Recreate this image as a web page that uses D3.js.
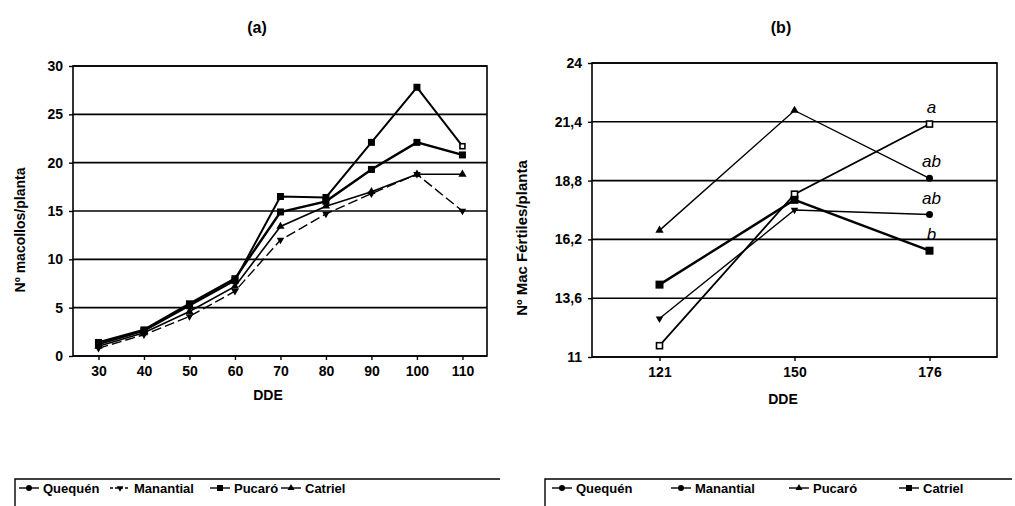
<!DOCTYPE html>
<html>
<head>
<meta charset="utf-8">
<script src="https://cdn.jsdelivr.net/npm/d3@7"></script>
<style>
  body { margin: 0; background: #fff; }
  svg { display: block; font-family: "Liberation Sans", "DejaVu Sans", sans-serif; font-weight: bold; }
  .grid line { stroke: #000; stroke-width: 1.6; }
  .tick text { font-size: 14px; fill: #000; }
</style>
</head>
<body>
<script>
// panel (a)
const ddeA = [30, 40, 50, 60, 70, 80, 90, 100, 110];
const ticksA = [0, 5, 10, 15, 20, 25, 30];
const quequenA = [1.4, 2.7, 5.4, 8.0, 14.9, 16.0, 19.3, 22.1, 20.8];
const manantialA = [0.8, 2.2, 4.1, 6.7, 12.0, 14.7, 16.8, 18.8, 15.0];
const pucaraA = [1.2, 2.6, 5.2, 7.8, 16.5, 16.4, 22.1, 27.8, 21.7];
const catrielA = [1.0, 2.4, 4.6, 7.2, 13.4, 15.5, 17.0, 18.8, 18.8];

// panel (b)
const ddeB = [121, 150, 176];
const ticksB = [11, 13.6, 16.2, 18.8, 21.4, 24];
const quequenB = [14.2, 17.95, 15.7];
const manantialB = [12.7, 17.5, 17.3];
const pucaraB = [16.6, 21.9, 18.9];
const catrielB = [11.5, 18.2, 21.3];
const letrasB = ["b", "ab", "ab", "a"]; // quequen, manantial, pucara, catriel at 176

const names = ["Quequén", "Manantial", "Pucaró", "Catriel"];

var svg = d3.select("body").append("svg")
    .attr("width", 1015)
    .attr("height", 506);

svg.append("rect").attr("width", 1015).attr("height", 506).attr("fill", "#fff");

function marker(g, type, x, y, s) {
  if (type == "square") {
    g.append("rect").attr("x", x - s/2).attr("y", y - s/2).attr("width", s).attr("height", s).attr("fill", "#000");
  } else if (type == "open") {
    g.append("rect").attr("x", x - s/2 + 1).attr("y", y - s/2 + 1).attr("width", s - 2).attr("height", s - 2)
      .attr("fill", "#fff").attr("stroke", "#000").attr("stroke-width", 1.6);
  } else if (type == "circle") {
    g.append("circle").attr("cx", x).attr("cy", y).attr("r", s/2).attr("fill", "#000");
  } else if (type == "tri") {
    g.append("path").attr("d", d3.symbol(d3.symbolTriangle, s * s * 0.6)()).attr("transform", "translate(" + x + "," + y + ")").attr("fill", "#000");
  } else if (type == "down") {
    g.append("path").attr("d", d3.symbol(d3.symbolTriangle, s * s * 0.5)()).attr("transform", "translate(" + x + "," + y + ") rotate(180)").attr("fill", "#000");
  }
}

function panel(opts) {
  var g = svg.append("g");
  var x = opts.x, y = opts.y;

  // gridlines
  g.append("g").attr("class", "grid")
    .selectAll("line").data(opts.yTicks).join("line")
    .attr("x1", x.range()[0]).attr("x2", x.range()[1])
    .attr("y1", d => y(d)).attr("y2", d => y(d));

  // frame
  g.append("rect")
    .attr("x", x.range()[0]).attr("y", y.range()[1])
    .attr("width", x.range()[1] - x.range()[0])
    .attr("height", y.range()[0] - y.range()[1])
    .attr("fill", "none").attr("stroke", "#000").attr("stroke-width", 1.6);

  var yAxis = d3.axisLeft(y).tickValues(opts.yTicks).tickSize(4).tickPadding(6).tickFormat(opts.fmt);
  var ya = g.append("g").attr("transform", "translate(" + x.range()[0] + ",0)").call(yAxis);
  ya.select(".domain").remove();
  ya.selectAll(".tick line").attr("stroke", "#000").attr("stroke-width", 1.4);

  var xAxis = d3.axisBottom(x).tickValues(opts.xTicks).tickSize(4).tickPadding(6);
  var xa = g.append("g").attr("transform", "translate(0," + y.range()[0] + ")").call(xAxis);
  xa.select(".domain").remove();
  xa.selectAll(".tick line").attr("stroke", "#000").attr("stroke-width", 1.4);

  // series
  opts.series.forEach(function(s) {
    var line = d3.line().x((d, i) => x(opts.xTicks[i])).y(d => y(d));
    g.append("path").datum(s.values)
      .attr("d", line)
      .attr("fill", "none")
      .attr("stroke", "#000")
      .attr("stroke-width", s.w)
      .attr("stroke-dasharray", s.dash || null);
    s.values.forEach(function(v, i) {
      var t = (s.last && i == s.values.length - 1) ? s.last : s.mark;
      marker(g, t, x(opts.xTicks[i]), y(v), s.size);
    });
  });

  svg.append("text").attr("x", opts.titleX).attr("y", 33).attr("text-anchor", "middle")
    .style("font-size", "16px").style("font-weight", 900).text(opts.title);

  svg.append("text").attr("x", opts.xLabelX).attr("y", opts.xLabelY).attr("text-anchor", "middle")
    .style("font-size", "14px").text("DDE");

  svg.append("text")
    .attr("transform", "translate(" + opts.yLabelX + "," + opts.yLabelY + ") rotate(-90)")
    .attr("text-anchor", "middle").style("font-size", opts.yLabelSize).text(opts.yLabel);

  return g;
}

// (a)
var xA = d3.scaleLinear().domain([24.4, 115.4]).range([73, 487]);
var yA = d3.scaleLinear().domain([0, 30]).range([356, 66]);
panel({
  x: xA, y: yA, xTicks: ddeA, yTicks: ticksA, fmt: d => d,
  title: "(a)", titleX: 257, xLabelX: 268, xLabelY: 400,
  yLabel: "Nº macollos/planta", yLabelX: 25, yLabelY: 230, yLabelSize: "14px",
  series: [
    {values: catrielA, mark: "tri", w: 1.6, size: 7},
    {values: manantialA, mark: "down", w: 1.4, size: 7, dash: "10,4"},
    {values: quequenA, mark: "square", w: 2.4, size: 7},
    {values: pucaraA, mark: "square", last: "open", w: 2, size: 7}
  ]
});

// (b)
var xB = d3.scalePoint().domain(ddeB).range([592, 997]).padding(0.5);
var yB = d3.scaleLinear().domain([11, 24]).range([357, 63]);
var gB = panel({
  x: xB, y: yB, xTicks: ddeB, yTicks: ticksB, fmt: d => String(d).replace(".", ","),
  title: "(b)", titleX: 781, xLabelX: 783, xLabelY: 404,
  yLabel: "Nº Mac Fértiles/planta", yLabelX: 527, yLabelY: 238, yLabelSize: "15px",
  series: [
    {values: pucaraB, mark: "tri", last: "circle", w: 1.4, size: 7},
    {values: manantialB, mark: "down", last: "circle", w: 1.4, size: 7},
    {values: catrielB, mark: "open", w: 1.8, size: 8},
    {values: quequenB, mark: "square", w: 2.4, size: 8}
  ]
});

var endVals = [quequenB[2], manantialB[2], pucaraB[2], catrielB[2]];
gB.selectAll("text.letra").data(endVals).join("text")
  .attr("class", "letra")
  .attr("x", xB(176) + 2)
  .attr("y", (d, i) => yB(d) - 11)
  .attr("text-anchor", "middle")
  .style("font-size", "17px").style("font-style", "italic").style("font-weight", "normal")
  .text((d, i) => letrasB[i]);

// legends
function legend(x0, x1, items) {
  var lg = svg.append("g");
  lg.append("path")
    .attr("d", "M" + x0 + ",510 V479 H" + x1)
    .attr("fill", "none").attr("stroke", "#000").attr("stroke-width", 1.4);
  items.forEach(function(it, i) {
    lg.append("line").attr("x1", it.x).attr("x2", it.x + 20).attr("y1", 488).attr("y2", 488)
      .attr("stroke", "#000").attr("stroke-width", 1.4).attr("stroke-dasharray", it.dash || null);
    marker(lg, it.mark, it.x + 10, 488, 6);
    lg.append("text").attr("x", it.x + 24).attr("y", 493).style("font-size", "13px").text(names[i]);
  });
}

legend(15, 500, [
  {x: 19, mark: "circle"},
  {x: 110, mark: "down", dash: "3,2"},
  {x: 210, mark: "square"},
  {x: 281, mark: "tri"}
]);
legend(545, 1012, [
  {x: 552, mark: "circle"},
  {x: 671, mark: "circle"},
  {x: 789, mark: "tri"},
  {x: 899, mark: "square"}
]);
</script>
</body>
</html>
